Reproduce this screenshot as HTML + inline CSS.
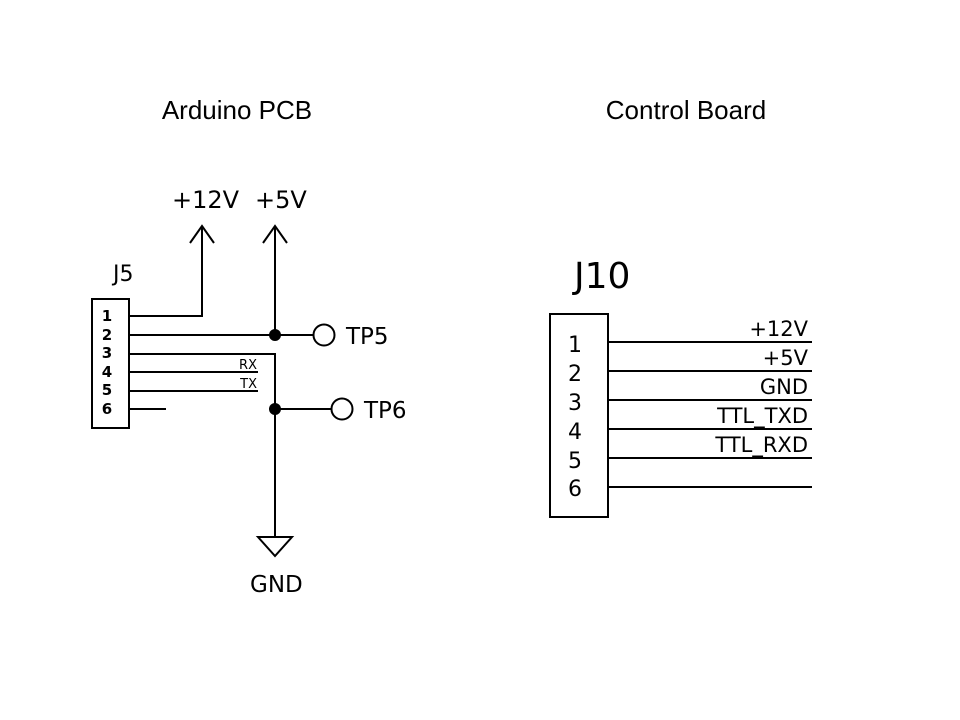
<!DOCTYPE html>
<html><head><meta charset="utf-8"><style>
html,body{margin:0;padding:0;background:#fff;}
svg{display:block;}
</style></head><body>
<svg width="960" height="720" viewBox="0 0 960 720" xmlns="http://www.w3.org/2000/svg">
<rect width="960" height="720" fill="#fff"/>
<g font-family="Liberation Sans, sans-serif" font-size="26" fill="#000" text-anchor="middle">
<text x="237" y="119">Arduino PCB</text>
<text x="686" y="119">Control Board</text>
</g>
<g stroke="#000" stroke-width="2" fill="none">
<rect x="92" y="299" width="37" height="129"/>
<polyline points="129,316 202,316 202,226"/>
<polyline points="190,243 202,226 214,243"/>
<line x1="275" y1="226" x2="275" y2="335"/>
<polyline points="263,243 275,226 287,243"/>
<line x1="129" y1="335" x2="313" y2="335"/>
<circle cx="324" cy="335" r="10.5"/>
<polyline points="129,354 275,354 275,537"/>
<polygon points="258,537 292,537 275,556"/>
<line x1="129" y1="372" x2="258" y2="372"/>
<line x1="129" y1="391" x2="258" y2="391"/>
<line x1="129" y1="409" x2="166" y2="409"/>
<line x1="275" y1="409" x2="331" y2="409"/>
<circle cx="342" cy="409" r="10.5"/>
<rect x="550" y="314" width="58" height="203"/>
<line x1="608" y1="342" x2="812" y2="342"/>
<line x1="608" y1="371" x2="812" y2="371"/>
<line x1="608" y1="400" x2="812" y2="400"/>
<line x1="608" y1="429" x2="812" y2="429"/>
<line x1="608" y1="458" x2="812" y2="458"/>
<line x1="608" y1="487" x2="812" y2="487"/>
</g>
<circle cx="275" cy="335" r="6" fill="#000"/>
<circle cx="275" cy="409" r="6" fill="#000"/>
<g font-family="DejaVu Sans, sans-serif" fill="#000">
<text x="172" y="208" font-size="24">+12V</text>
<text x="255" y="208" font-size="24">+5V</text>
<text x="113" y="281" font-size="22">J5</text>
<text x="346" y="344" font-size="23">TP5</text>
<text x="364" y="418" font-size="23">TP6</text>
<text x="250" y="592" font-size="23">GND</text>
<text x="257" y="369" font-size="13" text-anchor="end">RX</text>
<text x="257" y="388" font-size="13" text-anchor="end">TX</text>
<g font-size="15" text-anchor="middle" font-weight="600">
<text x="107" y="321">1</text><text x="107" y="340">2</text><text x="107" y="358">3</text>
<text x="107" y="377">4</text><text x="107" y="395">5</text><text x="107" y="414">6</text>
</g>
<text x="574" y="288" font-size="36">J10</text>
<g font-size="22" text-anchor="middle">
<text x="575" y="352">1</text><text x="575" y="381">2</text><text x="575" y="410">3</text>
<text x="575" y="439">4</text><text x="575" y="468">5</text><text x="575" y="496">6</text>
</g>
<g font-size="21" text-anchor="end">
<text x="808" y="336">+12V</text>
<text x="808" y="365">+5V</text>
<text x="808" y="394">GND</text>
<text x="808" y="423">TTL_TXD</text>
<text x="808" y="452">TTL_RXD</text>
</g>
</g>
</svg>
</body></html>
